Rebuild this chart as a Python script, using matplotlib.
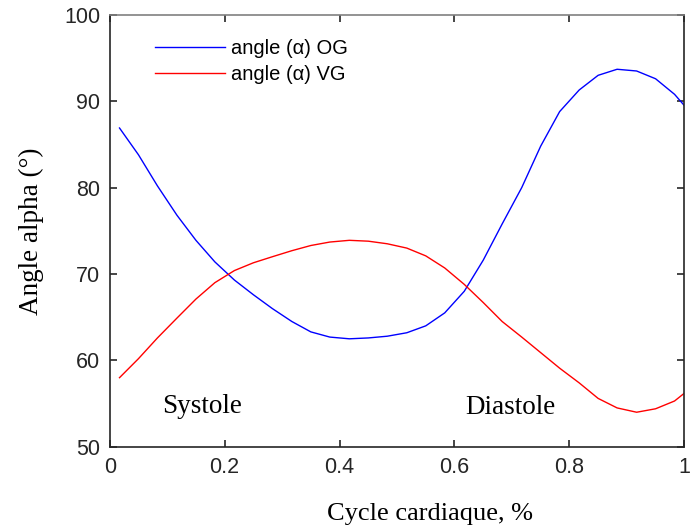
import matplotlib
matplotlib.use("Agg")
import matplotlib.pyplot as plt

cycle = [0.017, 0.05, 0.083, 0.117, 0.15, 0.183, 0.217, 0.25, 0.283, 0.317,
         0.35, 0.383, 0.417, 0.45, 0.483, 0.517, 0.55, 0.583, 0.617, 0.65,
         0.683, 0.717, 0.75, 0.783, 0.817, 0.85, 0.883, 0.917, 0.95, 0.983, 1.0]
angle_og = [86.9, 83.8, 80.2, 76.8, 73.9, 71.4, 69.3, 67.6, 66.0, 64.5,
            63.3, 62.7, 62.5, 62.6, 62.8, 63.2, 64.0, 65.5, 68.0, 71.6,
            75.8, 80.0, 84.8, 88.8, 91.3, 93.0, 93.7, 93.5, 92.6, 90.8, 89.5]
angle_vg = [58.0, 60.2, 62.6, 64.9, 67.1, 69.0, 70.4, 71.3, 72.0, 72.7,
            73.3, 73.7, 73.9, 73.8, 73.5, 73.0, 72.1, 70.7, 68.8, 66.7,
            64.5, 62.7, 60.9, 59.1, 57.4, 55.6, 54.5, 54.0, 54.4, 55.3, 56.2]
x_ticks = [0, 0.2, 0.4, 0.6, 0.8, 1]
x_ticklabels = ["0", "0.2", "0.4", "0.6", "0.8", "1"]
y_ticks = [50, 60, 70, 80, 90, 100]

fig = plt.figure(figsize=(6.99, 5.30), dpi=100)
ax = fig.add_axes([0.157, 0.157, 0.822, 0.815])

ax.plot(cycle, angle_og, color="#0000ff", lw=1.0, label="angle (\u03b1) OG")
ax.plot(cycle, angle_vg, color="#ff0000", lw=1.0, label="angle (\u03b1) VG")

ax.set_xlim(0, 1)
ax.set_ylim(50, 100)
ax.set_xticks(x_ticks)
ax.set_xticklabels(x_ticklabels)
ax.set_yticks(y_ticks)

sans = "Liberation Sans"
serif = "Liberation Serif"
for lab in ax.get_xticklabels() + ax.get_yticklabels():
    lab.set_fontfamily(sans)
    lab.set_fontsize(15.5)
    lab.set_color("#262626")

ax.tick_params(direction="in", length=5, width=1.2, top=True, right=True,
               colors="#262626", pad=7)
for s in ax.spines.values():
    s.set_linewidth(1.2)
    s.set_color("#262626")
ax.spines["top"].set_color("#808080")

ax.set_xlabel("Cycle cardiaque, %", fontfamily=serif, fontsize=19, labelpad=17)
ax.xaxis.set_label_coords(0.557, -0.13)
ax.set_ylabel("Angle alpha (\u00b0)", fontfamily=serif, fontsize=19.5, labelpad=14)

ax.text(0.092, 54.7, "Systole", fontfamily=serif, fontsize=19.5, va="center")
ax.text(0.618, 54.5, "Diastole", fontfamily=serif, fontsize=19.5, va="center")

ax.legend(loc="upper left", bbox_to_anchor=(0.047, 0.985), frameon=False,
          prop={"family": sans, "size": 14.5}, handlelength=3.5,
          handletextpad=0.3, labelspacing=0.35)

fig.savefig("out.png", dpi=100)
